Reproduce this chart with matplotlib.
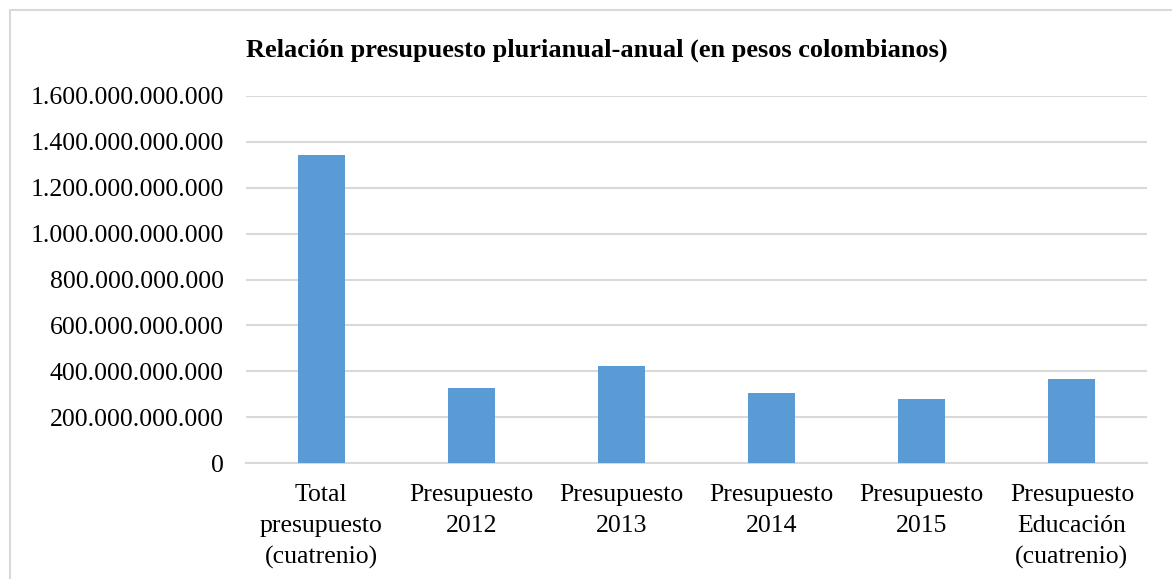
import matplotlib.pyplot as plt
from matplotlib.patches import Rectangle
from matplotlib.ticker import FuncFormatter

categorias = ['Total\npresupuesto\n(cuatrenio)', 'Presupuesto\n2012', 'Presupuesto\n2013',
              'Presupuesto\n2014', 'Presupuesto\n2015', 'Presupuesto\nEducación\n(cuatrenio)']
valores = [1343e9, 326e9, 423e9, 307e9, 280e9, 368e9]
yticks = [0, 200e9, 400e9, 600e9, 800e9, 1000e9, 1200e9, 1400e9, 1600e9]

plt.rcParams['font.family'] = ['Liberation Serif', 'DejaVu Serif']

fig = plt.figure(figsize=(11.72, 5.79), dpi=100)
fig.patches.append(Rectangle((10 / 1172, -0.1), 1.2, 1 - 10 / 579 + 0.1, transform=fig.transFigure,
                             fill=False, edgecolor='#d9d9d9', linewidth=1.5))
ax = fig.add_axes([246 / 1172, 1 - 463 / 579, (1147 - 246) / 1172, (463 - 96) / 579])

x = range(len(categorias))
ax.bar(x, valores, width=0.313, color='#5B9BD5', zorder=3)

ax.set_ylim(0, 1600e9)
ax.set_xlim(-0.5, len(categorias) - 0.5)
ax.set_yticks(yticks)
ax.yaxis.set_major_formatter(FuncFormatter(lambda v, p: f'{int(round(v)):,}'.replace(',', '.')))
ax.set_xticks(list(x))
ax.set_xticklabels(categorias, linespacing=1.52)
ax.tick_params(axis='both', length=0, labelsize=18.5, colors='black')
ax.tick_params(axis='y', pad=16)
ax.tick_params(axis='x', pad=15)
ax.grid(axis='y', color='#d9d9d9', linewidth=1.5, zorder=0)
for s in ['top', 'right', 'left']:
    ax.spines[s].set_visible(False)
ax.spines['bottom'].set_color('#d9d9d9')
ax.spines['bottom'].set_linewidth(1.5)

fig.text(597 / 1172, 1 - 50 / 579, 'Relación presupuesto plurianual-anual (en pesos colombianos)',
         ha='center', va='center', fontsize=19, fontweight='bold')

fig.savefig('out.png', dpi=100)
